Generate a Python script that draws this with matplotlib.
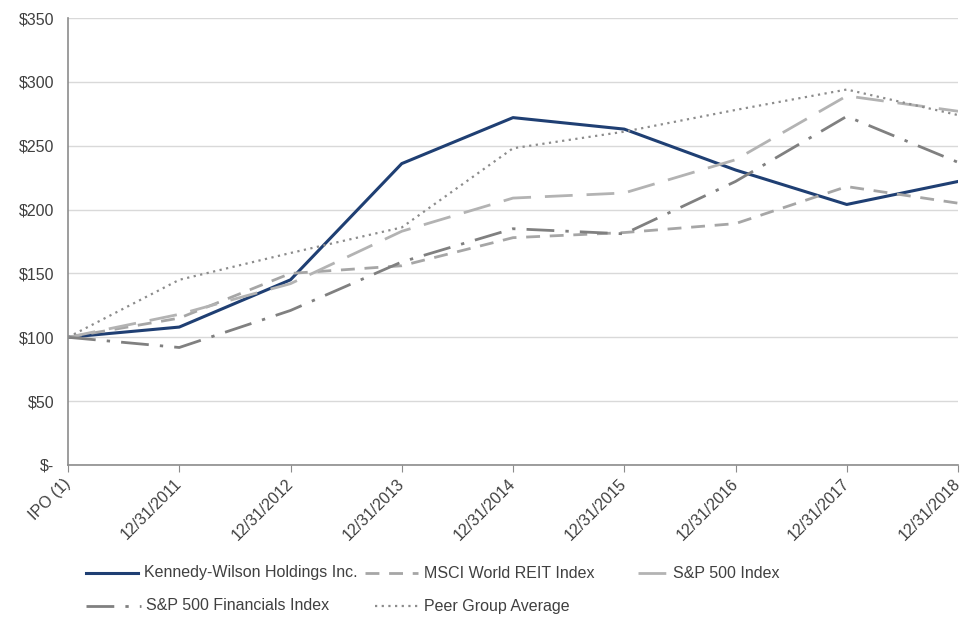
import matplotlib
matplotlib.use("Agg")
import matplotlib.pyplot as plt
from matplotlib.lines import Line2D

plt.rcParams['font.family'] = ['Liberation Sans Narrow', 'Liberation Sans', 'DejaVu Sans']

categories = ["IPO (1)", "12/31/2011", "12/31/2012", "12/31/2013", "12/31/2014",
              "12/31/2015", "12/31/2016", "12/31/2017", "12/31/2018"]
kennedy_wilson = [100, 108, 145, 236, 272, 263, 231, 204, 222]
msci_reit = [100, 115, 150, 156, 178, 182, 189, 218, 205]
sp500 = [100, 118, 142, 183, 209, 213, 239, 289, 277]
sp500_fin = [100, 92, 121, 159, 185, 181, 222, 273, 237]
peer_avg = [100, 145, 166, 186, 248, 261, 278, 294, 274]

series_names = ["Kennedy-Wilson Holdings Inc.", "MSCI World REIT Index", "S&P 500 Index",
                "S&P 500 Financials Index", "Peer Group Average"]
y_ticks = [0, 50, 100, 150, 200, 250, 300, 350]
y_labels = ["$-", "$50", "$100", "$150", "$200", "$250", "$300", "$350"]

styles = [
    dict(color="#1f3f73", lw=2.2, linestyle="-"),
    dict(color="#a6a6a6", lw=2.0, linestyle=(0, (5, 3.5))),
    dict(color="#b3b3b3", lw=2.0, linestyle=(0, (10, 5))),
    dict(color="#808080", lw=2.0, linestyle=(0, (10, 4, 1.2, 4))),
    dict(color="#8c8c8c", lw=1.6, linestyle=(0, (1, 2))),
]

fig = plt.figure(figsize=(9.63, 6.21), dpi=100)
ax = fig.add_axes([68/963, 1 - 465/621, (958-68)/963, (465-18)/621])

x = list(range(len(categories)))
data = [kennedy_wilson, msci_reit, sp500, sp500_fin, peer_avg]
for vals, st, name in zip(data, styles, series_names):
    ax.plot(x, vals, label=name, **st)

ax.set_xlim(0, len(categories) - 1)
ax.set_ylim(0, 350)
ax.set_yticks(y_ticks)
ax.set_yticklabels(y_labels)
ax.set_xticks(x)
ax.set_xticklabels(categories, rotation=45, ha="right", va="center", rotation_mode="anchor")
ax.grid(axis="y", color="#d9d9d9", lw=1.0)
ax.set_axisbelow(True)
for s in ["top", "right"]:
    ax.spines[s].set_visible(False)
for s in ["left", "bottom"]:
    ax.spines[s].set_color("#8c8c8c")
    ax.spines[s].set_linewidth(1.2)
ax.tick_params(axis="y", length=0, pad=10, labelsize=11.5, colors="#404040")
ax.tick_params(axis="x", length=5, color="#8c8c8c", pad=7, labelsize=11.5, labelcolor="#404040")

# Legend drawn in flowed layout like the reference
def legend_item(x0, x1, y, tx, idx):
    st = styles[idx]
    ln = Line2D([x0/963, x1/963], [1 - y/621, 1 - y/621], transform=fig.transFigure,
                color=st["color"], lw=st["lw"], linestyle=st["linestyle"])
    fig.add_artist(ln)
    fig.text(tx/963, 1 - y/621, series_names[idx], va="center", ha="left",
             fontsize=11.5, color="#404040")

legend_item(86, 138, 573, 144, 0)
legend_item(365, 418, 573, 424, 1)
legend_item(638, 670, 573, 673, 2)
legend_item(86, 141, 606, 146, 3)
legend_item(375, 421, 606, 424, 4)

fig.savefig("out.png", dpi=100)
